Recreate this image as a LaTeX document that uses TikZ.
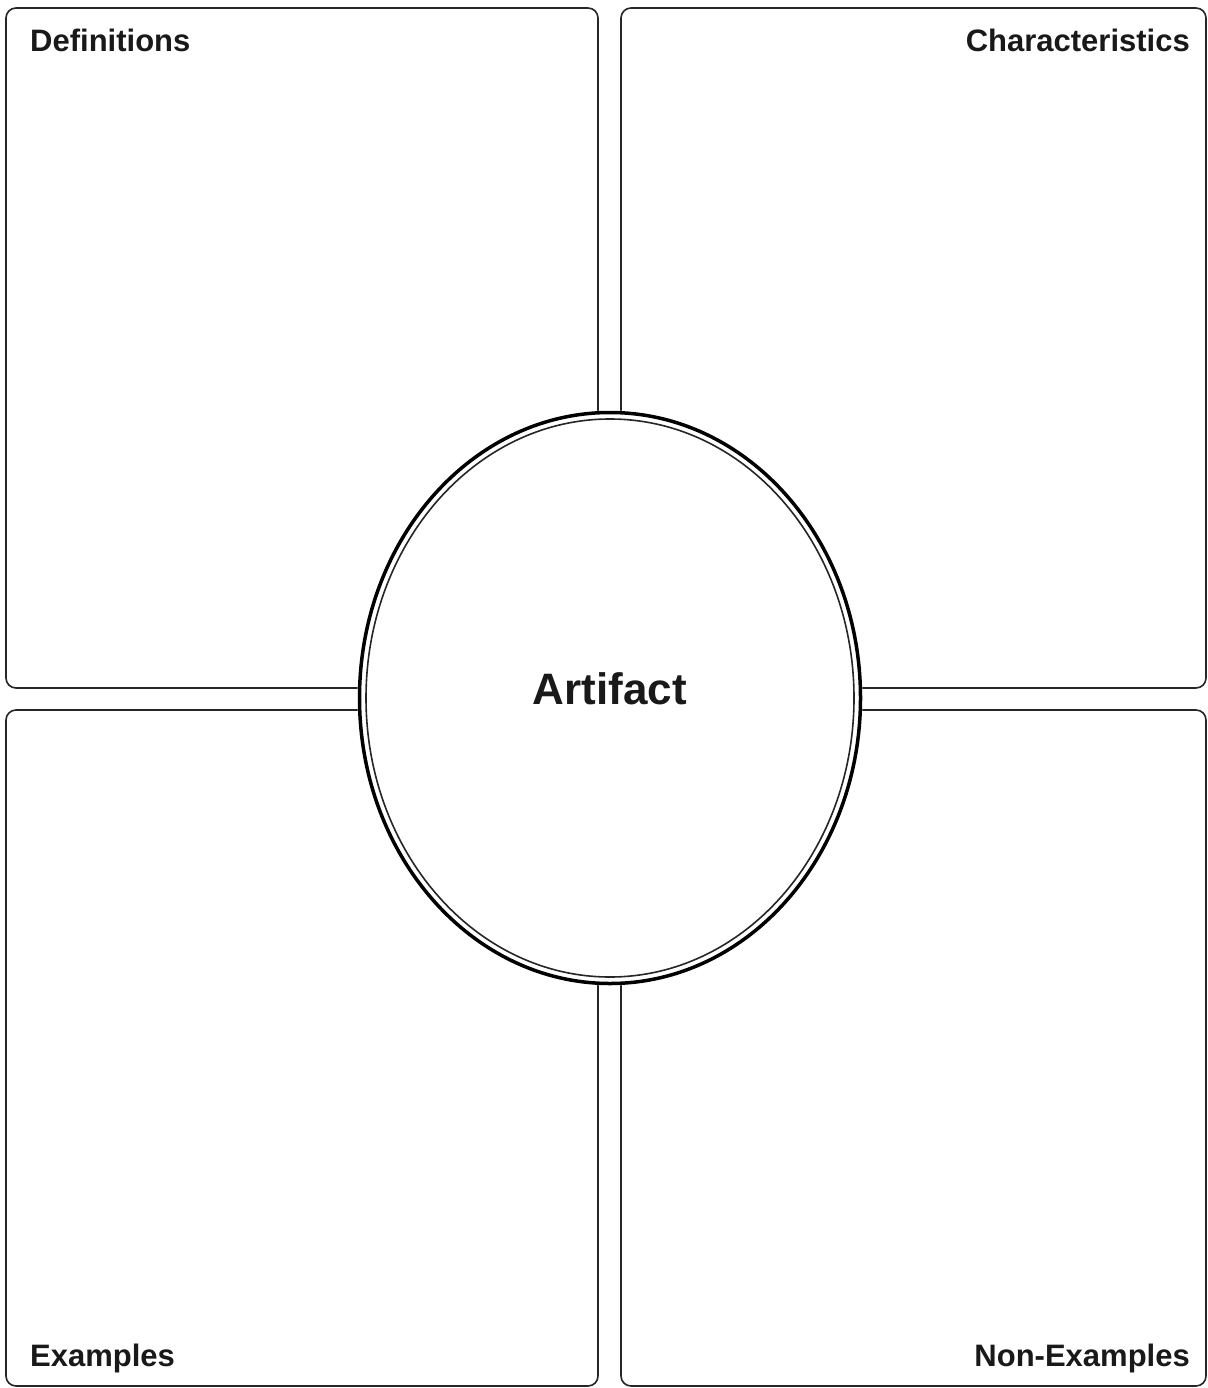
\documentclass[tikz,border=0pt]{standalone}
\usepackage{fontspec}
\setmainfont{Liberation Sans}
\begin{document}
\begin{tikzpicture}[x=1pt,y=-1pt,
  box/.style={draw=black!85, line width=1.6pt, rounded corners=10pt},
  label/.style={font=\fontsize{31}{37}\selectfont\bfseries, text=black!90, inner sep=0pt},
  title/.style={font=\fontsize{44}{52}\selectfont\bfseries, text=black!90, inner sep=0pt}]
\useasboundingbox (0,0) rectangle (1207,1388);
\fill[white] (0,0) rectangle (1207,1388);
% boxes
\draw[box] (6,8) rectangle (598,688);
\draw[box] (621,8) rectangle (1206,688);
\draw[box] (6,710) rectangle (598,1386);
\draw[box] (621,710) rectangle (1206,1386);
\coordinate (c) at (610,698);
% ellipse
\fill[white] (c) ellipse [x radius=252.5, y radius=287.5];
\draw[black, line width=3.5pt] (c) ellipse [x radius=250.5, y radius=285.5];
\draw[black!85, line width=1.6pt] (c) ellipse [x radius=244, y radius=279];
% labels
\node[label, anchor=base west] (def) at (30,52) {Definitions};
\node[label, anchor=base east] (cha) at (1190,52) {Characteristics};
\node[label, anchor=base west] (exa) at (30,1366) {Examples};
\node[label, anchor=base east] (non) at (1190,1366) {Non-Examples};
\node[title, anchor=base] (art) at (610,704) {Artifact};
\end{tikzpicture}
\end{document}
